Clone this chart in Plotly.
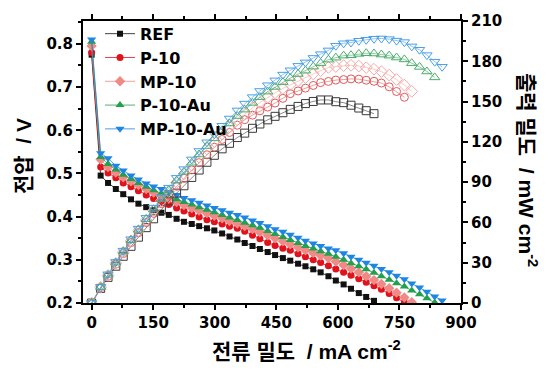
import plotly.graph_objects as go

# Current density grid (mA cm^-2) shared by all cells
current = [0, 22, 40, 59, 77, 96, 114, 133, 151, 170, 188, 207, 225, 244, 262, 281, 299, 318, 336, 355,
           373, 392, 410, 429, 447, 466, 484, 503, 521, 540, 558, 577, 595, 614, 632, 651, 669, 688, 706, 725,
           743, 762, 780, 799, 817, 836, 854]

series_names = ["REF", "P-10", "MP-10", "P-10-Au", "MP-10-Au"]

# Cell voltage (V)
v_ref = [0.775, 0.495, 0.478, 0.464, 0.452, 0.440, 0.430, 0.422, 0.415, 0.409, 0.404, 0.395, 0.388, 0.383,
         0.378, 0.373, 0.368, 0.361, 0.354, 0.347, 0.339, 0.332, 0.325, 0.318, 0.311, 0.304, 0.298, 0.291,
         0.285, 0.278, 0.271, 0.262, 0.252, 0.243, 0.233, 0.223, 0.214, 0.205]
v_p10 = [0.780, 0.515, 0.501, 0.490, 0.478, 0.469, 0.460, 0.450, 0.442, 0.435, 0.428, 0.420, 0.413, 0.406,
         0.399, 0.393, 0.388, 0.383, 0.378, 0.373, 0.366, 0.357, 0.349, 0.340, 0.333, 0.327, 0.322, 0.314,
         0.307, 0.300, 0.294, 0.286, 0.279, 0.271, 0.264, 0.256, 0.248, 0.240, 0.232, 0.222, 0.212, 0.201]
v_mp10 = [0.795, 0.532, 0.515, 0.502, 0.491, 0.482, 0.473, 0.464, 0.456, 0.449, 0.442, 0.434, 0.427, 0.420,
          0.414, 0.408, 0.402, 0.396, 0.390, 0.384, 0.378, 0.371, 0.364, 0.357, 0.350, 0.343, 0.336, 0.329,
          0.322, 0.316, 0.310, 0.304, 0.296, 0.288, 0.280, 0.271, 0.262, 0.253, 0.244, 0.234, 0.224, 0.213,
          0.202]
v_p10au = [0.805, 0.538, 0.522, 0.509, 0.497, 0.487, 0.478, 0.469, 0.461, 0.454, 0.447, 0.440, 0.434, 0.428,
           0.422, 0.416, 0.410, 0.404, 0.398, 0.392, 0.386, 0.380, 0.374, 0.367, 0.360, 0.353, 0.346, 0.339,
           0.332, 0.326, 0.320, 0.314, 0.307, 0.300, 0.292, 0.285, 0.278, 0.270, 0.262, 0.254, 0.246, 0.238,
           0.229, 0.220, 0.211, 0.201]
v_mp10au = [0.810, 0.547, 0.535, 0.518, 0.507, 0.495, 0.486, 0.477, 0.470, 0.464, 0.457, 0.450, 0.443, 0.438,
            0.432, 0.426, 0.420, 0.415, 0.409, 0.404, 0.398, 0.391, 0.385, 0.378, 0.371, 0.365, 0.358, 0.351,
            0.344, 0.338, 0.332, 0.326, 0.322, 0.315, 0.307, 0.300, 0.293, 0.286, 0.279, 0.271, 0.263, 0.255,
            0.245, 0.236, 0.226, 0.215, 0.206]

# Power density (mW cm^-2)
p_ref = [0, 10.9, 19.1, 27.4, 34.8, 42.2, 49.0, 56.1, 62.7, 69.5, 76.0, 81.8, 87.3, 93.5, 99.0, 104.8, 110.0,
         114.8, 118.9, 123.2, 126.5, 130.1, 133.3, 136.4, 139.0, 141.7, 144.2, 146.4, 148.5, 150.1, 151.2,
         151.2, 149.9, 149.2, 147.3, 145.2, 143.2, 141.0]
p_p10 = [0, 11.3, 20.0, 28.9, 36.8, 45.0, 52.4, 59.9, 66.7, 74.0, 80.5, 86.9, 92.9, 99.1, 104.5, 110.4, 116.0,
         121.8, 127.0, 132.4, 136.5, 139.9, 143.1, 145.9, 148.9, 152.4, 155.9, 157.9, 160.0, 162.0, 164.1,
         165.0, 166.0, 166.4, 166.9, 166.7, 165.9, 165.1, 163.8, 161.0, 157.5, 153.2]
p_mp10 = [0, 11.7, 20.6, 29.6, 37.8, 46.3, 53.9, 61.7, 68.9, 76.3, 83.1, 89.8, 96.1, 102.5, 108.5, 114.6,
          120.2, 125.9, 131.0, 136.3, 141.0, 145.4, 149.2, 153.2, 156.5, 159.8, 162.6, 165.5, 167.8, 170.6,
          173.0, 175.4, 176.1, 176.8, 177.0, 176.4, 175.3, 174.1, 172.3, 169.7, 166.4, 162.3, 157.6]
p_p10au = [0, 11.8, 20.9, 30.0, 38.3, 46.8, 54.5, 62.4, 69.6, 77.2, 84.0, 91.1, 97.7, 104.4, 110.6, 116.9,
           122.6, 128.5, 133.7, 139.2, 144.0, 149.0, 153.3, 157.4, 160.9, 164.5, 167.5, 170.5, 173.0, 176.0,
           178.6, 181.2, 182.7, 184.2, 184.5, 185.5, 186.0, 185.8, 185.0, 184.2, 182.8, 181.4, 178.6, 175.8,
           172.4, 168.0]
p_mp10au = [0, 12.0, 21.4, 30.6, 39.0, 47.5, 55.4, 63.4, 71.0, 78.9, 85.9, 93.2, 99.7, 106.9, 113.2, 119.7,
            125.6, 132.0, 137.4, 143.4, 148.5, 153.3, 157.9, 162.2, 165.8, 170.1, 173.3, 176.6, 179.2, 182.5,
            185.3, 188.1, 191.6, 193.4, 194.0, 195.3, 196.0, 196.8, 197.0, 196.5, 195.4, 194.3, 191.1, 188.6,
            184.6, 179.7, 175.9]

x_ticks = [0, 150, 300, 450, 600, 750, 900]
v_ticks = [0.2, 0.3, 0.4, 0.5, 0.6, 0.7, 0.8]
p_ticks = [0, 30, 60, 90, 120, 150, 180, 210]

voltages = [v_ref, v_p10, v_mp10, v_p10au, v_mp10au]
powers = [p_ref, p_p10, p_mp10, p_p10au, p_mp10au]

solid_colors = ["#111111", "#e0121b", "#f08a86", "#23a04c", "#1e86e0"]
open_colors = ["#3a3a3a", "#e05a5e", "#f4aaa8", "#49ad6a", "#4a9fe6"]
solid_symbols = ["square", "circle", "diamond", "triangle-up", "triangle-down"]
open_symbols = ["square-open", "circle-open", "diamond-open", "triangle-up-open", "triangle-down-open"]
solid_sizes = [6, 7, 8, 8, 8]
open_sizes = [8, 8, 9, 9, 9]

TICK_FONT = "DejaVu Sans, Noto Sans CJK KR, sans-serif"
TITLE_FONT = "Liberation Sans, Arial, Noto Sans CJK KR, sans-serif"

fig = go.Figure()

for name, v, c, s, sz in zip(series_names, voltages, solid_colors, solid_symbols, solid_sizes):
    fig.add_trace(go.Scatter(
        x=current[:len(v)], y=v, name=name, mode="lines+markers",
        line=dict(color=c, width=0.8),
        marker=dict(symbol=s, size=sz, color=c, line=dict(width=0)),
        xaxis="x", yaxis="y",
    ))

for name, p, c, s, sz in zip(series_names, powers, open_colors, open_symbols, open_sizes):
    fig.add_trace(go.Scatter(
        x=current[:len(p)], y=p, name=name + " power", mode="lines+markers",
        line=dict(color=c, width=0.6),
        marker=dict(symbol=s, size=sz, color=c, line=dict(width=1, color=c)),
        xaxis="x", yaxis="y2", showlegend=False,
    ))

axis_common = dict(
    showline=True, linecolor="black", linewidth=2,
    ticks="outside", ticklen=5, tickwidth=2, tickcolor="black",
    showgrid=False, zeroline=False,
    tickfont=dict(family=TICK_FONT, size=15, color="black", weight="bold"),
)

fig.update_layout(
    width=551, height=370,
    margin=dict(l=83, r=90, t=15, b=67),
    paper_bgcolor="white", plot_bgcolor="white",
    font=dict(family=TICK_FONT, color="black"),
    xaxis=dict(
        range=[-21, 900], tickvals=x_ticks, mirror="ticks",
        minor=dict(ticks="outside", ticklen=3, tickwidth=2, tickcolor="black", dtick=75, tick0=0),
        **axis_common,
    ),
    yaxis=dict(
        range=[0.2, 0.853], tickvals=v_ticks, tickformat=".1f",
        minor=dict(ticks="outside", ticklen=3, tickwidth=2, tickcolor="black", dtick=0.05, tick0=0.2),
        **axis_common,
    ),
    yaxis2=dict(
        range=[0, 210], tickvals=p_ticks, overlaying="y", side="right", anchor="x",
        minor=dict(ticks="outside", ticklen=3, tickwidth=2, tickcolor="black", dtick=15, tick0=0),
        **axis_common,
    ),
    legend=dict(
        x=0.045, y=1.015, xanchor="left", yanchor="top",
        bgcolor="rgba(0,0,0,0)", borderwidth=0,
        font=dict(family=TICK_FONT, size=16, color="black", weight="bold"),
        tracegroupgap=0, itemwidth=30,
    ),
    showlegend=True,
)

fig.add_annotation(
    text="전압  / V", xref="paper", yref="paper", x=-0.159, y=0.521,
    xanchor="center", yanchor="middle", textangle=-90, showarrow=False,
    font=dict(family=TITLE_FONT, size=21, color="black", weight="bold"),
)
fig.add_annotation(
    text="전류 밀도  / mA cm<sup>-2</sup>", xref="paper", yref="paper", x=0.59, y=-0.167,
    xanchor="center", yanchor="middle", showarrow=False,
    font=dict(family=TITLE_FONT, size=21, color="black", weight="bold"),
)
fig.add_annotation(
    text="출력 밀도  / mW cm<sup>-2</sup>", xref="paper", yref="paper", x=1.177, y=0.472,
    xanchor="center", yanchor="middle", textangle=90, showarrow=False,
    font=dict(family=TITLE_FONT, size=21, color="black", weight="bold"),
)

fig.write_html("out.html", config={"displayModeBar": False},
               post_script="document.body.style.margin='0px';")
